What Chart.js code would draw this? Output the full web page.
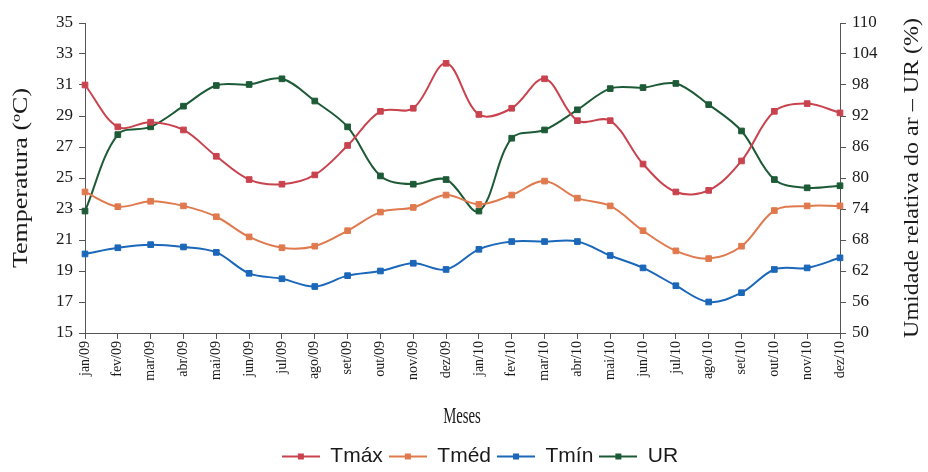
<!DOCTYPE html>
<html lang="pt">
<head>
<meta charset="utf-8">
<title>Temperatura e umidade relativa do ar</title>
<script src="https://cdn.jsdelivr.net/npm/chart.js@4/dist/chart.umd.min.js"></script>
<style>
    html, body { margin: 0; padding: 0; background: #fff; }
    .chart-wrap { position: relative; width: 928px; height: 472px; }
</style>
</head>
<body>
<div class="chart-wrap">
    <canvas id="climaChart" width="928" height="472"></canvas>
</div>
<script>
// ==== Data ====
const meses = ["jan/09", "fev/09", "mar/09", "abr/09", "mai/09", "jun/09", "jul/09", "ago/09", "set/09", "out/09", "nov/09", "dez/09",
               "jan/10", "fev/10", "mar/10", "abr/10", "mai/10", "jun/10", "jul/10", "ago/10", "set/10", "out/10", "nov/10", "dez/10"];

const tmax = [31.0, 28.3, 28.6, 28.1, 26.4, 24.9, 24.6, 25.2, 27.1, 29.3, 29.5, 32.4,
              29.1, 29.5, 31.4, 28.7, 28.7, 25.9, 24.1, 24.2, 26.1, 29.3, 29.8, 29.2];
const tmed = [24.1, 23.15, 23.5, 23.2, 22.5, 21.2, 20.5, 20.6, 21.6, 22.8, 23.1, 23.9,
              23.3, 23.9, 24.8, 23.7, 23.2, 21.6, 20.3, 19.8, 20.6, 22.9, 23.2, 23.2];
const tmin = [20.1, 20.5, 20.7, 20.55, 20.2, 18.85, 18.5, 18.0, 18.7, 19.0, 19.5, 19.1,
              20.4, 20.9, 20.9, 20.9, 20.0, 19.2, 18.05, 17.0, 17.6, 19.1, 19.2, 19.85];
const ur = [73.6, 88.4, 89.9, 93.9, 97.9, 98.1, 99.2, 94.9, 89.9, 80.4, 78.8, 79.7,
            73.6, 87.7, 89.3, 93.2, 97.3, 97.5, 98.3, 94.2, 89.1, 79.7, 78.1, 78.5];

const tempTicks = [15, 17, 19, 21, 23, 25, 27, 29, 31, 33, 35];
const urTicks = [50, 56, 62, 68, 74, 80, 86, 92, 98, 104, 110];

// ==== Styles ====
const colors = {
    tmax: "#c9434f",
    tmed: "#e07a4e",
    tmin: "#1b67b9",
    ur: "#1d5a36"
};
const axisColor = "#555";
const textColor = "#1a1a1a";
const serif = "'Liberation Serif', 'Times New Roman', serif";

// legend marker: short line with a square in the middle
function legendMarker(color) {
    const c = document.createElement("canvas");
    c.width = 38;
    c.height = 10;
    const g = c.getContext("2d");
    g.strokeStyle = color;
    g.lineWidth = 2;
    g.beginPath();
    g.moveTo(0, 5);
    g.lineTo(38, 5);
    g.stroke();
    g.fillStyle = color;
    g.fillRect(16, 2, 6, 6);
    return c;
}

function serie(label, data, color, axis) {
    return {
        label: label,
        data: data,
        yAxisID: axis,
        borderColor: color,
        backgroundColor: color,
        borderWidth: 2,
        tension: 0.35,
        pointStyle: "rect",
        pointRadius: 4,
        pointBorderWidth: 1,
        pointBackgroundColor: color,
        pointBorderColor: color,
        fill: false,
        legendMarker: legendMarker(color)
    };
}

// Axis titles drawn rotated like the original figure
const axisTitles = {
    id: "axisTitles",
    afterLayout(chart) {
        // legend sits a bit right of the canvas centre in the original
        const lg = chart.legend;
        if (lg) {
            lg.left += 16;
            lg.right += 16;
            lg.top += 5;
            lg.bottom += 5;
        }
    },
    afterDraw(chart) {
        const ctx = chart.ctx;
        ctx.save();
        ctx.fillStyle = textColor;
        ctx.textAlign = "center";
        ctx.textBaseline = "middle";

        ctx.font = "20px " + serif;
        ctx.save();
        ctx.translate(22, 178);
        ctx.rotate(-Math.PI / 2);
        ctx.scale(1.3, 1);
        ctx.fillText("Temperatura (ºC)", 0, 0);
        ctx.restore();

        ctx.save();
        ctx.translate(913, 178);
        ctx.rotate(-Math.PI / 2);
        ctx.scale(1.2, 1);
        ctx.fillText("Umidade relativa do ar – UR (%)", 0, 0);
        ctx.restore();

        ctx.font = "18px " + serif;
        ctx.save();
        ctx.translate(462, 417);
        ctx.scale(0.82, 1.3);
        ctx.fillText("Meses", 0, 0);
        ctx.restore();

        ctx.restore();
    }
};

const axisGrid = {
    display: true,
    drawOnChartArea: false,
    drawTicks: true,
    tickLength: 6,
    color: axisColor
};

new Chart(document.getElementById("climaChart"), {
    type: "line",
    data: {
        labels: meses,
        datasets: [
            serie("Tmáx", tmax, colors.tmax, "y"),
            serie("Tméd", tmed, colors.tmed, "y"),
            serie("Tmín", tmin, colors.tmin, "y"),
            serie("UR", ur, colors.ur, "y1")
        ]
    },
    options: {
        responsive: false,
        animation: false,
        devicePixelRatio: 1,
        layout: {
            padding: { top: 23, right: 0, left: 0, bottom: 0 }
        },
        plugins: {
            tooltip: { enabled: false },
            legend: {
                position: "bottom",
                labels: {
                    usePointStyle: true,
                    pointStyleWidth: 38,
                    padding: 6,
                    color: textColor,
                    font: { family: "'Liberation Sans', Arial, sans-serif", size: 21 },
                    generateLabels(chart) {
                        const items = Chart.defaults.plugins.legend.labels.generateLabels(chart);
                        items.forEach(item => {
                            item.pointStyle = chart.data.datasets[item.datasetIndex].legendMarker;
                        });
                        return items;
                    }
                }
            }
        },
        scales: {
            x: {
                type: "category",
                offset: false,
                grid: axisGrid,
                border: { display: true, color: axisColor, width: 1 },
                ticks: {
                    autoSkip: false,
                    maxRotation: 90,
                    minRotation: 90,
                    padding: 2,
                    color: textColor,
                    font: { family: serif, size: 14 }
                },
                afterFit(scale) { scale.height = 102; }
            },
            y: {
                position: "left",
                min: 15,
                max: 35,
                grid: axisGrid,
                border: { display: true, color: axisColor, width: 1 },
                afterBuildTicks(scale) { scale.ticks = tempTicks.map(v => ({ value: v })); },
                ticks: {
                    padding: 6,
                    color: textColor,
                    font: { family: serif, size: 17 }
                },
                afterFit(scale) { scale.width = 85; }
            },
            y1: {
                position: "right",
                min: 50,
                max: 110,
                grid: axisGrid,
                border: { display: true, color: axisColor, width: 1 },
                afterBuildTicks(scale) { scale.ticks = urTicks.map(v => ({ value: v })); },
                ticks: {
                    padding: 6,
                    color: textColor,
                    font: { family: serif, size: 17 }
                },
                afterFit(scale) { scale.width = 88; }
            }
        }
    },
    plugins: [axisTitles]
});
</script>
</body>
</html>
